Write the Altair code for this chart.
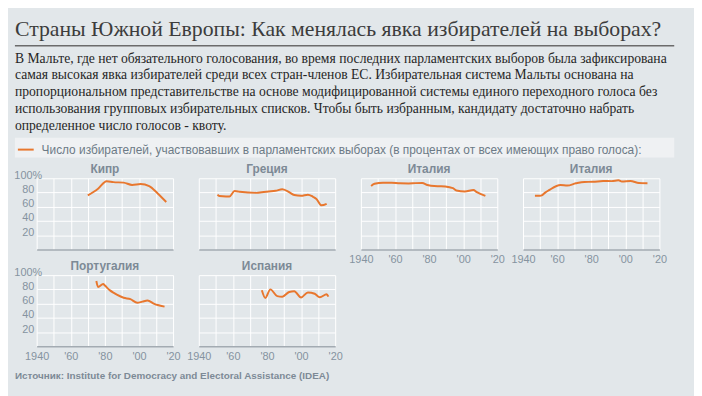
import altair as alt
import pandas as pd

TITLE = "Страны Южной Европы: Как менялась явка избирателей на выборах?"
DESC = [
    "В Мальте, где нет обязательного голосования, во время последних парламентских выборов была зафиксирована",
    "самая высокая явка избирателей среди всех стран-членов ЕС. Избирательная система Мальты основана на",
    "пропорциональном представительстве на основе модифицированной системы единого переходного голоса без",
    "использования групповых избирательных списков. Чтобы быть избранным, кандидату достаточно набрать",
    "определенное число голосов - квоту.",
]
LEGEND_LABEL = "Число избирателей, участвовавших в парламентских выборах (в процентах от всех имеющих право голоса):"
SOURCE = "Источник: Institute for Democracy and Electoral Assistance (IDEA)"

DECADES = [1940, 1950, 1960, 1970, 1980, 1990, 2000, 2010, 2020]
Y_TICKS = [20, 40, 60, 80, 100]

cyprus_years = [1970, 1976, 1981, 1985, 1991, 1996, 2001, 2006, 2011, 2016]
cyprus_vals = [76.0, 85.3, 95.8, 94.6, 93.9, 90.6, 91.8, 89.0, 78.7, 66.7]

greece_years = [1951, 1952, 1956, 1958, 1961, 1963, 1964, 1974, 1977, 1981, 1985,
                1989, 1990, 1993, 1996, 2000, 2004, 2007, 2009, 2012, 2015]
greece_vals = [77.0, 75.0, 74.5, 74.5, 82.0, 81.5, 81.0, 79.5, 80.5, 81.5, 82.5,
               84.5, 84.0, 80.5, 76.5, 75.5, 77.0, 74.0, 71.0, 62.0, 64.0]

italy_years = [1946, 1948, 1953, 1958, 1963, 1968, 1972, 1976, 1979, 1983, 1987,
               1992, 1994, 1996, 2001, 2006, 2008, 2013]
italy_vals = [89.1, 92.2, 93.8, 93.8, 92.9, 92.8, 93.2, 93.4, 90.6, 89.0, 88.9,
              87.4, 86.1, 82.9, 81.4, 83.6, 80.5, 75.2]

italy2_years = [1947, 1950, 1951, 1953, 1955, 1962, 1966, 1971, 1976, 1981, 1987,
                1992, 1996, 1998, 2003, 2008, 2013]
italy2_vals = [75.4, 75.4, 75.9, 79.9, 82.9, 90.6, 89.7, 92.9, 94.9, 95.0, 96.1,
               96.0, 97.2, 95.4, 96.2, 93.3, 93.0]

portugal_years = [1975, 1976, 1979, 1980, 1983, 1985, 1987, 1991, 1995, 1999,
                  2002, 2005, 2009, 2011, 2015]
portugal_vals = [91.7, 83.5, 87.5, 85.4, 78.6, 75.4, 72.6, 68.2, 66.3, 61.1,
                 62.8, 64.3, 59.7, 58.0, 55.8]

spain_years = [1977, 1979, 1982, 1986, 1989, 1993, 1996, 2000, 2004, 2008, 2011, 2015, 2016]
spain_vals = [78.8, 68.0, 80.0, 70.5, 69.7, 76.4, 77.4, 68.7, 75.7, 73.8, 68.9, 73.2, 69.8]

BG = "#e2e7ea"
BOX = "#eff1f3"
ORANGE = "#e8772e"
PANEL_TITLE = "#7d8a96"
AXIS_GRAY = "#8593a0"
DOMAIN = "#a3abb2"
SANS = "Liberation Sans"
SERIF = "Liberation Serif"

X_LABEL_EXPR = ("datum.value == 1940 ? '1940' : (datum.value % 20 == 0 ? "
                "\"'\" + substring(format(datum.value, 'd'), 2, 4) : '')")

one = pd.DataFrame({"k": [0]})
base = alt.Chart(one)


def line_chart(years, vals, xlabels, ylabels):
    df = pd.DataFrame({"year": years, "value": vals, "series": [LEGEND_LABEL] * len(years)})
    x_axis = alt.Axis(values=DECADES, grid=True, gridColor="white", gridWidth=1,
                      ticks=False, tickSize=0, domain=True, domainColor=DOMAIN,
                      domainWidth=1.5, labels=xlabels, labelExpr=X_LABEL_EXPR,
                      labelFlush=False, labelOverlap=False, labelPadding=4,
                      labelFont=SANS, labelFontSize=11, labelColor=AXIS_GRAY, title=None)
    y_axis = alt.Axis(values=Y_TICKS, grid=True, gridColor="white", gridWidth=1,
                      ticks=False, tickSize=0, domain=False, labels=ylabels,
                      labelExpr="datum.value == 100 ? '100%' : datum.label",
                      labelAlign="center", labelBaseline="alphabetic", labelPadding=9,
                      labelFont=SANS, labelFontSize=11, labelColor=AXIS_GRAY, title=None)
    legend = alt.Legend(orient="none", legendX=-20, legendY=-38, title=None,
                        symbolType="stroke", symbolSize=256, symbolStrokeWidth=2,
                        labelFont=SANS, labelFontSize=12, labelColor="#6c7a86",
                        labelLimit=800, labelOffset=7, padding=0)
    return alt.Chart(df).mark_line(strokeWidth=2, interpolate="monotone").encode(
        x=alt.X("year:Q", scale=alt.Scale(domain=[1940, 2020], nice=False, zero=False), axis=x_axis),
        y=alt.Y("value:Q", scale=alt.Scale(domain=[0, 100], nice=False), axis=y_axis),
        color=alt.Color("series:N", scale=alt.Scale(range=[ORANGE]), legend=legend),
    )


def name_label(name):
    return base.mark_text(text=name, align="center", baseline="alphabetic", font=SANS,
                          fontSize=12, fontWeight="bold", color=PANEL_TITLE).encode(
        x=alt.value(69), y=alt.value(-5))


def panel(name, years, vals, xlabels, ylabels, extra=()):
    return alt.layer(*extra, name_label(name), line_chart(years, vals, xlabels, ylabels)).properties(
        width=138, height=72)


# header / footer decorations, positioned in pixels relative to the first panel
anchor = base.mark_rect(opacity=0).encode(
    x=alt.value(-29), x2=alt.value(665), y=alt.value(-170), y2=alt.value(218))
box = base.mark_rect(color=BOX).encode(
    x=alt.value(-22), x2=alt.value(645), y=alt.value(-41), y2=alt.value(-21))
rule = base.mark_rule(color="#6b6b6b", strokeWidth=1.5).encode(
    x=alt.value(-22), x2=alt.value(645), y=alt.value(-134))
title_txt = base.mark_text(text=TITLE, align="left", baseline="alphabetic", font=SERIF,
                           fontSize=22, color="#3c3c3c").encode(
    x=alt.value(-22), y=alt.value(-144))
desc_txt = base.mark_text(text=DESC, align="left", baseline="alphabetic", font=SERIF,
                          fontSize=13.8, lineHeight=17, color="#262626").encode(
    x=alt.value(-22), y=alt.value(-117))
footer = base.mark_text(text=SOURCE, align="left", baseline="alphabetic", font=SANS,
                        fontSize=10, fontWeight="bold", color=PANEL_TITLE).encode(
    x=alt.value(-22), y=alt.value(203))

p1 = panel("Кипр", cyprus_years, cyprus_vals, False, True,
           extra=(anchor, box, rule, title_txt, desc_txt, footer))
p2 = panel("Греция", greece_years, greece_vals, False, False)
p3 = panel("Италия", italy_years, italy_vals, True, False)
p4 = panel("Италия", italy2_years, italy2_vals, True, False)
p5 = panel("Португалия", portugal_years, portugal_vals, True, True)
p6 = panel("Испания", spain_years, spain_vals, True, False)

chart = alt.concat(p1, p2, p3, p4, p5, p6, columns=4, bounds="flush",
                   spacing={"row": 26, "column": 26}).properties(
    padding=0
).configure(background=BG, font=SANS).configure_view(strokeWidth=0)

chart.save("out.html", embed_options={"renderer": "svg", "actions": False})
